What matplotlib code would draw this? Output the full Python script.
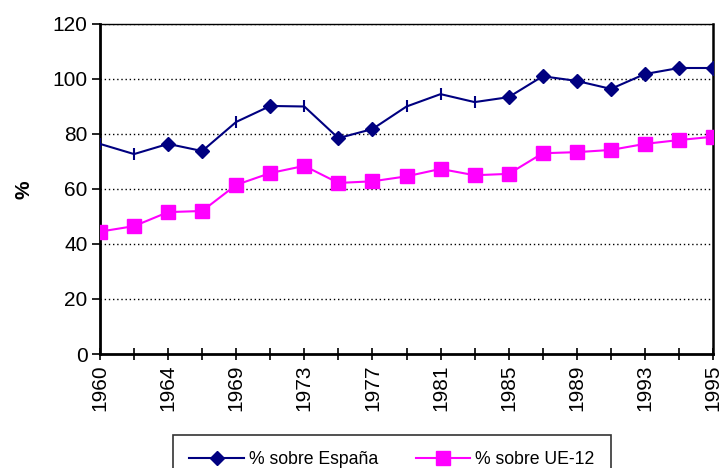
import matplotlib
matplotlib.use('Agg')
import matplotlib.pyplot as plt

# Years on the category axis (only every second one is labelled)
years = ['1960', '1962', '1964', '1967', '1969', '1971', '1973', '1975', '1977',
         '1979', '1981', '1983', '1985', '1987', '1989', '1991', '1993', '1994', '1995']

# Values
espana = [76.4, 72.7, 76.4, 73.8, 84.4, 90.2, 90.0, 78.5, 81.8,
          90.0, 94.5, 91.6, 93.4, 101.0, 99.3, 96.4, 101.8, 104.0, 104.0]
ue12 = [44.5, 46.5, 51.6, 52.0, 61.5, 65.8, 68.4, 62.2, 62.8,
        64.6, 67.3, 65.0, 65.5, 73.0, 73.4, 74.2, 76.4, 77.8, 79.0]

# Excel drew some of the España markers as plain vertical ticks
tick_marker_idx = [0, 1, 4, 6, 9, 10, 11]

plt.rcParams['font.family'] = ['Liberation Sans', 'DejaVu Sans']

navy = '#000080'
magenta = '#FF00FF'

fig = plt.figure(figsize=(7.19, 4.68), dpi=100)
ax = fig.add_axes([100 / 719, 1 - 354 / 468, 613 / 719, 330 / 468])

x = list(range(len(years)))
diamond_idx = [i for i in x if i not in tick_marker_idx]

# España line + markers
ax.plot(x, espana, color=navy, linewidth=1.5, zorder=3)
ax.plot([x[i] for i in diamond_idx], [espana[i] for i in diamond_idx],
        linestyle='none', marker='D', markersize=7.5, color=navy, zorder=4)
ax.plot([x[i] for i in tick_marker_idx], [espana[i] for i in tick_marker_idx],
        linestyle='none', marker='|', markersize=9, markeredgewidth=1.5,
        color=navy, zorder=4)

# UE-12 line
ax.plot(x, ue12, color=magenta, linewidth=1.5, marker='s', markersize=9.5,
        zorder=3)

ax.set_xlim(0, len(years) - 1)
ax.set_ylim(0, 120)
ax.set_yticks(range(0, 121, 20))
ax.set_xticks(x)
ax.set_xticklabels([y if i % 2 == 0 else '' for i, y in enumerate(years)],
                   rotation=90, fontsize=15)
ax.tick_params(axis='y', labelsize=15, direction='out', length=6, width=1.2, pad=3)
ax.tick_params(axis='x', direction='inout', length=9, width=1.2, pad=3)

# dotted grid
for v in range(20, 121, 20):
    ax.axhline(v, color='black', linestyle=(0, (1, 2)), linewidth=1, zorder=1)

for side in ['left', 'bottom']:
    ax.spines[side].set_linewidth(2)
ax.spines['right'].set_linewidth(1.8)
ax.spines['top'].set_linewidth(1)
for s in ax.spines.values():
    s.set_color('black')

ax.set_ylabel('%', fontsize=15, fontweight='bold')
ax.yaxis.set_label_coords(-0.108, 0.497)

# Legend with the same look as the reference
h1, = ax.plot([], [], color=navy, linewidth=1.5, marker='D', markersize=7.5)
h2, = ax.plot([], [], color=magenta, linewidth=1.5, marker='s', markersize=9.5)
leg = fig.legend([h1, h2], ['% sobre España', '% sobre UE-12'], ncol=2,
                 loc='upper center', bbox_to_anchor=(392 / 719, 1 - 435 / 468),
                 frameon=True, fancybox=False, fontsize=12.7, handlelength=3.1,
                 handletextpad=0.3, columnspacing=2.1, borderpad=0.9,
                 borderaxespad=0)
leg.get_frame().set_edgecolor('black')
leg.get_frame().set_linewidth(1.2)

fig.savefig('out.png', dpi=100)
